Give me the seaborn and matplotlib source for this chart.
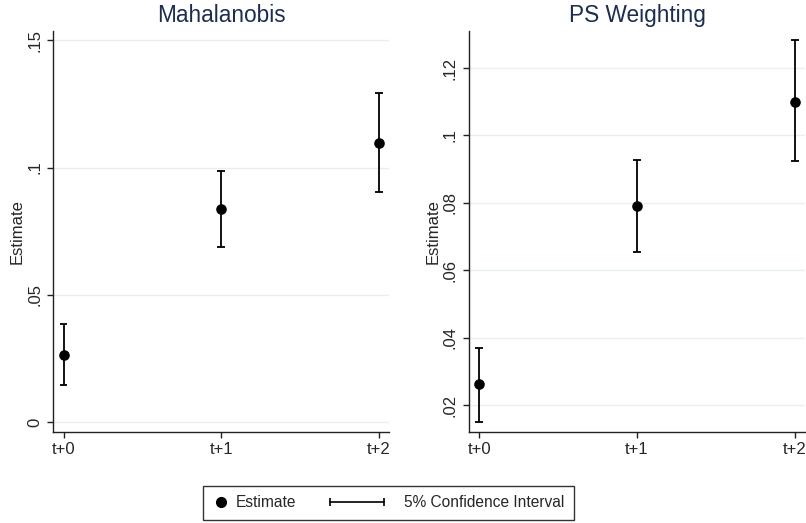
import numpy as np
import pandas as pd
import matplotlib
matplotlib.use("Agg")
import matplotlib.pyplot as plt
import seaborn as sns
from matplotlib.lines import Line2D
from matplotlib.legend_handler import HandlerBase, HandlerLine2D

# data
periods = ["t+0", "t+1", "t+2"]

maha_est = [0.0263, 0.0839, 0.1098]
maha_lo = [0.0147, 0.0687, 0.0906]
maha_hi = [0.0386, 0.0986, 0.1295]
maha_ticks = [0, 0.05, 0.10, 0.15]
maha_ticklabels = ["0", ".05", ".1", ".15"]
maha_ylim = (-0.004, 0.1538)

psw_est = [0.0261, 0.0790, 0.1100]
psw_lo = [0.0149, 0.0654, 0.0923]
psw_hi = [0.0370, 0.0926, 0.1282]
psw_ticks = [0.02, 0.04, 0.06, 0.08, 0.10, 0.12]
psw_ticklabels = [".02", ".04", ".06", ".08", ".1", ".12"]
psw_ylim = (0.0119, 0.1311)

titles = ["Mahalanobis", "PS Weighting"]

sns.set_style("white")
plt.rcParams["font.family"] = ["Liberation Sans", "DejaVu Sans"]

TITLE_COL = "#1c2d50"
GRID_COL = "#e6eff1"
AX_COL = "#222222"
FS = 12

fig = plt.figure(figsize=(8.06, 5.23), dpi=100)
ax1 = fig.add_axes([0.0661, 0.1734, 0.4165, 0.768])
ax2 = fig.add_axes([0.5819, 0.1734, 0.4170, 0.768])

panels = [
    (ax1, maha_est, maha_lo, maha_hi, maha_ticks, maha_ticklabels, maha_ylim),
    (ax2, psw_est, psw_lo, psw_hi, psw_ticks, psw_ticklabels, psw_ylim),
]

for (ax, est, lo, hi, ticks, tlabels, ylim), title in zip(panels, titles):
    df = pd.DataFrame({"period": periods, "est": est, "lo": lo, "hi": hi})
    df["x"] = np.arange(len(df))
    ax.vlines(df.x, df.lo, df.hi, color="black", lw=1.3, zorder=2)
    ax.hlines(df.lo, df.x - 0.025, df.x + 0.025, color="black", lw=1.3, zorder=2)
    ax.hlines(df.hi, df.x - 0.025, df.x + 0.025, color="black", lw=1.3, zorder=2)
    sns.scatterplot(data=df, x="x", y="est", ax=ax, color="black", s=58,
                    edgecolor="black", linewidth=0, zorder=3, legend=False)
    ax.set_xlim(-0.065, 2.065)
    ax.set_ylim(*ylim)
    ax.set_xticks(df.x)
    ax.set_xticklabels(periods)
    ax.set_yticks(ticks)
    ax.set_yticklabels(tlabels, rotation=90, va="center")
    ax.yaxis.grid(True, color=GRID_COL, lw=1.0)
    ax.set_axisbelow(True)
    ax.set_xlabel("")
    ax.set_ylabel("Estimate", fontsize=FS, labelpad=1.5)
    ax.set_title(title, fontsize=16.3, color=TITLE_COL, pad=6)
    for side in ["top", "right"]:
        ax.spines[side].set_visible(False)
    for side in ["left", "bottom"]:
        ax.spines[side].set_color(AX_COL)
        ax.spines[side].set_linewidth(1.0)
    ax.tick_params(axis="both", which="major", direction="out", length=4,
                   width=1.0, color=AX_COL, labelsize=FS, left=True, bottom=True)
    ax.tick_params(axis="y", pad=4)
    ax.tick_params(axis="x", pad=3)


class CIHandler(HandlerBase):
    def create_artists(self, legend, orig_handle, xdescent, ydescent,
                       width, height, fontsize, trans):
        y = height / 2 - ydescent
        x1 = width - xdescent - 0.75 * fontsize
        x0 = x1 - 3.5 * fontsize
        ln = Line2D([x0, x1], [y, y], color="black", lw=1.2,
                    marker="|", markersize=6, markeredgewidth=1.2,
                    transform=trans)
        return [ln]


est_handle = Line2D([], [], color="black", marker="o", linestyle="none",
                    markersize=7)
ci_handle = Line2D([], [], color="black")

leg = fig.legend([est_handle, ci_handle], ["Estimate", "5% Confidence Interval"],
                 loc="lower left", bbox_to_anchor=(0.252, 0.006), ncol=2,
                 fontsize=11.2, frameon=True, fancybox=False, handlelength=1.0,
                 handletextpad=0.5, columnspacing=5.4, borderpad=0.62,
                 borderaxespad=0,
                 handler_map={est_handle: HandlerLine2D(numpoints=1),
                              ci_handle: CIHandler()})
leg.get_frame().set_edgecolor("black")
leg.get_frame().set_linewidth(1.0)

fig.savefig("out.png", dpi=100, facecolor="white")
